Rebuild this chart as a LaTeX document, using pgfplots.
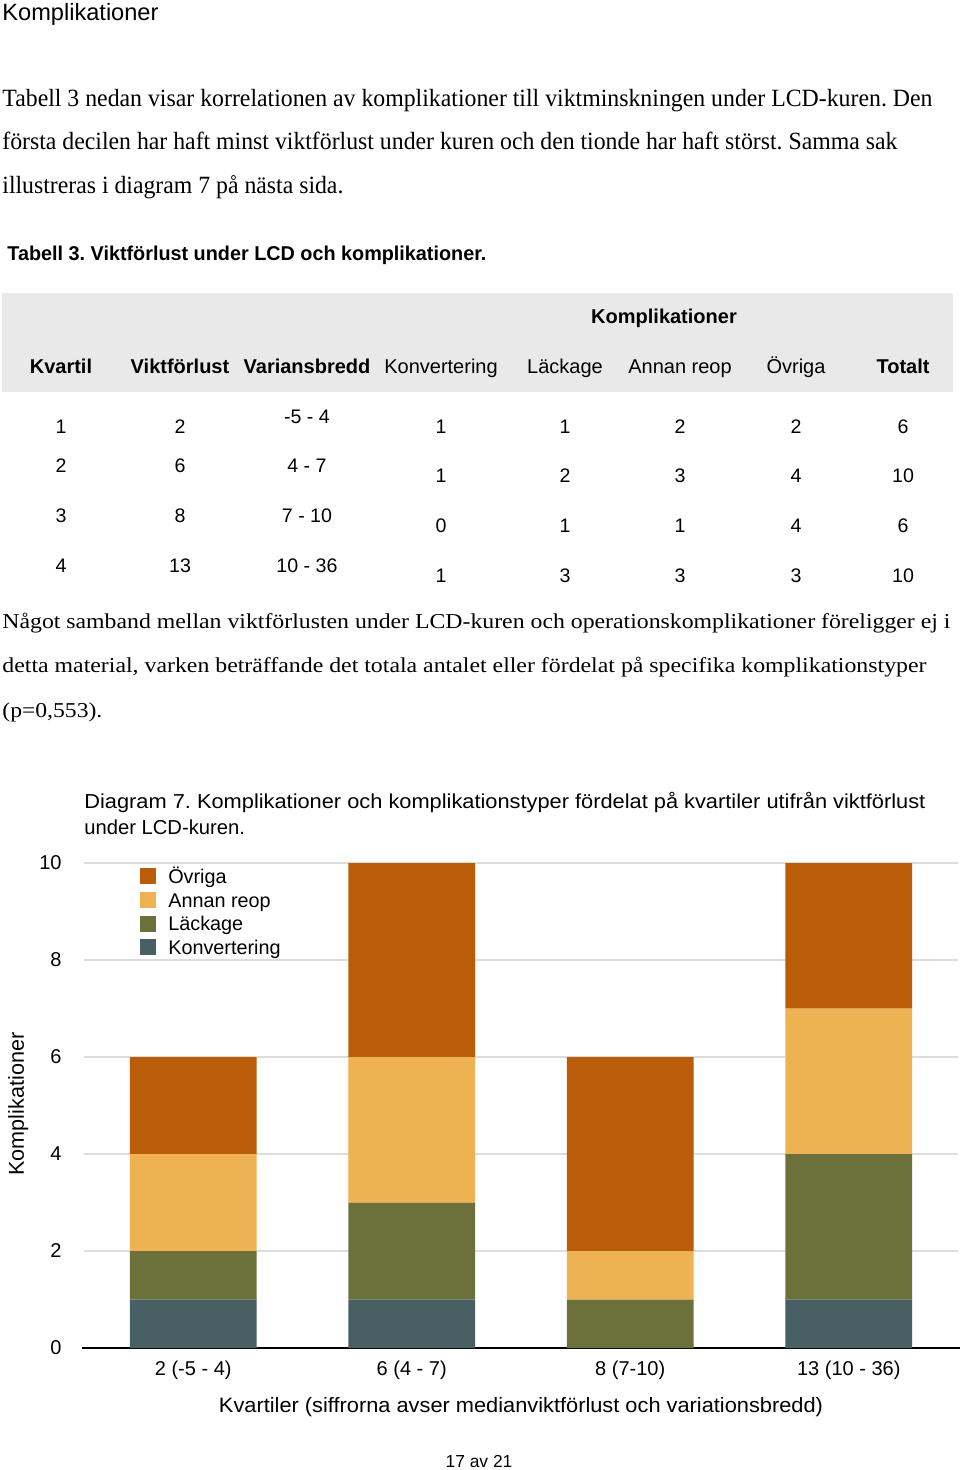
\documentclass[border=0pt]{standalone}
\usepackage{graphicx}
\usepackage{fontspec}
\usepackage{pgfplots}
\usepackage{pgfplotstable}
\pgfplotsset{compat=1.18}
\setmainfont{Liberation Serif}
\newfontfamily\sans{Liberation Sans}
\frenchspacing
\definecolor{ovr}{RGB}{186,92,10}
\definecolor{ann}{RGB}{239,178,82}
\definecolor{lac}{RGB}{108,113,60}
\definecolor{kon}{RGB}{72,95,99}
\definecolor{hdr}{RGB}{233,233,233}
\definecolor{grd}{RGB}{221,221,221}
\newcommand\fs[1]{\fontsize{#1}{#1}\selectfont}
\newcommand\fit[2]{\resizebox{#1}{\height}{#2}}
\pgfplotsset{mylegend/.style={legend image code/.code={\fill[##1] (0pt,-4pt) rectangle (8pt,4pt); \path (14pt,0pt);}}}

\pgfplotstableread{
x kon lac ann ovr
0 1 1 2 2
1 1 2 3 4
2 0 1 1 4
3 1 3 3 3
}\datatable

\begin{document}
\begin{tikzpicture}
\path[use as bounding box, fill=white] (0pt,0pt) rectangle (480pt,-735pt);
\begin{scope}[x=0.5pt,y=-0.5pt, every node/.style={inner sep=0pt}]
% heading
\node[anchor=base west] at (2,21) {\sans\fs{11.8}Komplikationer};
% paragraph 1
\node[anchor=base west] at (2,107) {\fit{465pt}{\fs{12.4}Tabell 3 nedan visar korrelationen av komplikationer till viktminskningen under LCD-kuren. Den}};
\node[anchor=base west] at (2,150) {\fit{447.5pt}{\fs{12.4}första decilen har haft minst viktförlust under kuren och den tionde har haft störst. Samma sak}};
\node[anchor=base west] at (2,194) {\fit{170.5pt}{\fs{12.4}illustreras i diagram 7 på nästa sida.}};
% table caption
\node[anchor=base west] at (7,261) {\fit{239.5pt}{\sans\bfseries\fs{10}Tabell 3. Viktförlust under LCD och komplikationer.}};
% table header
\fill[hdr] (2,293) rectangle (953,392);
\node[anchor=base] at (664,324) {\sans\bfseries\fs{10}Komplikationer};
\node[anchor=base] at (61,374) {\sans\bfseries\fs{10}Kvartil};
\node[anchor=base] at (180,374) {\sans\bfseries\fs{10}Viktförlust};
\node[anchor=base] at (307,374) {\sans\bfseries\fs{10}Variansbredd};
\node[anchor=base] at (441,374) {\sans\fs{10}Konvertering};
\node[anchor=base] at (565,374) {\sans\fs{10}Läckage};
\node[anchor=base] at (680,374) {\sans\fs{10}Annan reop};
\node[anchor=base] at (796,374) {\sans\fs{10}Övriga};
\node[anchor=base] at (903,374) {\sans\bfseries\fs{10}Totalt};
% table body
\begin{scope}[every node/.append style={anchor=base, font=\sans\fs{9.8}}]
\node at (61,433) {1}; \node at (180,433) {2}; \node at (307,423) {-5 - 4};
\node at (61,473) {2}; \node at (180,473) {6}; \node at (307,473) {4 - 7};
\node at (61,522) {3}; \node at (180,522) {8}; \node at (307,522) {7 - 10};
\node at (61,572) {4}; \node at (180,572) {13}; \node at (307,572) {10 - 36};
\node at (441,433) {1}; \node at (565,433) {1}; \node at (680,433) {2}; \node at (796,433) {2}; \node at (903,433) {6};
\node at (441,482) {1}; \node at (565,482) {2}; \node at (680,482) {3}; \node at (796,482) {4}; \node at (903,482) {10};
\node at (441,532) {0}; \node at (565,532) {1}; \node at (680,532) {1}; \node at (796,532) {4}; \node at (903,532) {6};
\node at (441,582) {1}; \node at (565,582) {3}; \node at (680,582) {3}; \node at (796,582) {3}; \node at (903,582) {10};
\end{scope}
% paragraph 2
\node[anchor=base west] at (2,628) {\fit{474pt}{\fs{10.6}Något samband mellan viktförlusten under LCD-kuren och operationskomplikationer föreligger ej i}};
\node[anchor=base west] at (2,672) {\fit{462pt}{\fs{10.6}detta material, varken beträffande det totala antalet eller fördelat på specifika komplikationstyper}};
\node[anchor=base west] at (2,717) {\fit{50pt}{\fs{10.6}(p=0,553).}};
% chart title
\node[anchor=base west] at (84,808) {\fit{420.5pt}{\sans\fs{10.1}Diagram 7. Komplikationer och komplikationstyper fördelat på kvartiler utifrån viktförlust}};
\node[anchor=base west] at (84,834) {\sans\fs{10.1}under LCD-kuren.};
% axis labels
\node[rotate=90, anchor=base] at (24,1104) {\sans\fs{10.8}Komplikationer};
\node[anchor=base] at (521,1412) {\fit{302pt}{\sans\fs{10.4}Kvartiler (siffrorna avser medianviktförlust och variationsbredd)}};
% page number
\node[anchor=base] at (479,1467) {\sans\fs{8.7}17 av 21};
\end{scope}

\begin{axis}[
  at={(42pt,-674pt)}, anchor=south west,
  scale only axis, width=437pt, height=242.5pt,
  xmin=-0.5, xmax=3.5, ymin=0, ymax=10,
  ybar stacked, bar width=0.58,
  xtick={0,1,2,3},
  xticklabels={{2 (-5 - 4)},{6 (4 - 7)},{8 (7-10)},{13 (10 - 36)}},
  ytick={0,2,4,6,8,10},
  major tick length=0pt,
  axis line style={draw=none},
  ymajorgrids, grid style={grd, line width=0.6pt},
  tick label style={font=\sans\fs{10}, inner sep=0pt},
  /pgf/number format/assume math mode=true,
  yticklabel style={anchor=east, xshift=-11pt},
  xticklabel style={anchor=base, yshift=-13.5pt},
  clip=false,
  every axis plot post/.append style={mylegend},
  reverse legend,
  legend cell align=left,
  legend style={draw=none, fill=none, at={(0.064,0.998)}, anchor=north west,
    inner sep=0pt, font=\sans\fs{9.9},
    nodes={inner sep=0pt, text height=9.5pt, text depth=2.35pt}},
]
\addplot[fill=kon, draw=none] table[x=x, y=kon] {\datatable};
\addplot[fill=lac, draw=none] table[x=x, y=lac] {\datatable};
\addplot[fill=ann, draw=none] table[x=x, y=ann] {\datatable};
\addplot[fill=ovr, draw=none] table[x=x, y=ovr] {\datatable};
\legend{Konvertering, Läckage, Annan reop, Övriga}
\draw[black, line width=1pt] (axis cs:-0.51,0) -- (axis cs:3.51,0);
\end{axis}
\end{tikzpicture}
\end{document}
